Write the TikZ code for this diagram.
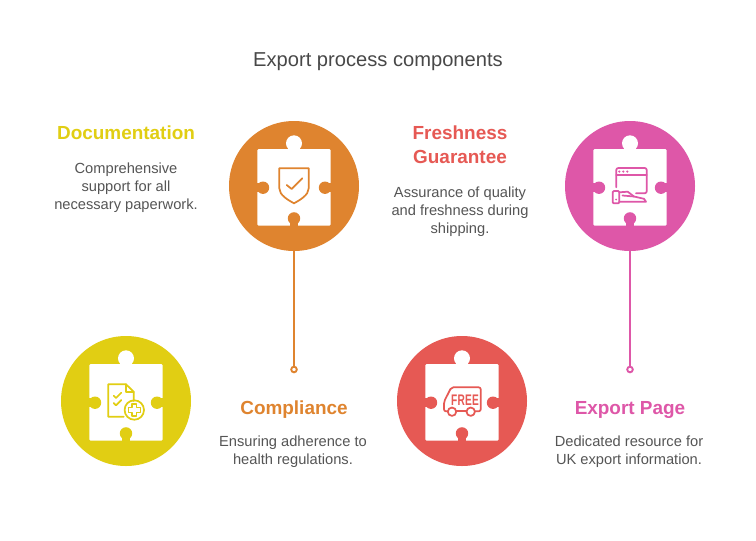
\documentclass[tikz,border=0pt]{standalone}
\usepackage{fontspec}
\setmainfont{Liberation Sans}
\definecolor{cOrange}{HTML}{DF842F}
\definecolor{cPink}{HTML}{DE57A8}
\definecolor{cYellow}{HTML}{E1CE13}
\definecolor{cRed}{HTML}{E65954}
\definecolor{cBody}{HTML}{555555}
\definecolor{cTitle}{HTML}{484848}
\tikzset{
  disc/.style={circle,fill=#1,minimum size=97.5pt,inner sep=0pt,outer sep=0pt},
  ring/.style={circle,draw=#1,fill=white,line width=1.4pt,minimum size=4.2pt,inner sep=0pt,outer sep=0pt},
  link/.style={draw=#1,line width=1.5pt},
  icon/.style={draw=#1,line width=1.3pt,line join=round,line cap=round},
  titletext/.style={text=cTitle,font=\fontsize{15.1pt}{18pt}\selectfont,inner sep=0pt},
  headtext/.style={text=#1,font=\fontsize{14.2pt}{18pt}\selectfont\bfseries,align=center,inner sep=0pt},
  bodytext/.style={text=cBody,font=\fontsize{11pt}{13.5pt}\selectfont,align=center,inner sep=0pt},
}
% puzzle piece: #1 disc name, #2 centre, #3 colour
\newcommand{\puzzlepiece}[3]{%
  \node[disc=#3] (#1) at (#2) {};
  \begin{scope}[shift={(#2)}]
    \fill[white,rounded corners=1pt] (-36.7,-37) rectangle (36.7,39.7);
    \fill[white] (-5,-38) rectangle (5,-44);
    \fill[white] (0,-42.7) circle (8);
    \fill[#3] (-31,1.7) circle (6.2);
    \fill[#3] (31,1.7) circle (6.2);
    \fill[#3] (0,32.4) circle (6.2);
    \fill[#3] (-37.5,-2.6) rectangle (-31,6);
    \fill[#3] (37.5,-2.6) rectangle (31,6);
    \fill[#3] (-4.3,32.4) rectangle (4.3,40.5);
  \end{scope}}
\begin{document}
\begin{tikzpicture}[x=0.75pt,y=-0.75pt]
\useasboundingbox (0,0) rectangle (756,540);
\fill[white] (0,0) rectangle (756,540);

\node[titletext] (title) at (378,62) {Export process components};

\puzzlepiece{docdisc}{294,186}{cOrange}
\puzzlepiece{freshdisc}{630,186}{cPink}
\puzzlepiece{compdisc}{126,401}{cYellow}
\puzzlepiece{freedisc}{462,401}{cRed}

% shield
\begin{scope}[shift={(294,186)}]
  \draw[icon=cOrange] (-14.7,-17.7) -- (14.7,-17.7) -- (14.7,2.3) .. controls (14.7,9) and (6,14) .. (0,17.3) .. controls (-6,14) and (-14.7,9) .. (-14.7,2.3) -- cycle;
  \draw[icon=cOrange] (-7.3,-1) -- (-2.3,3) -- (8.3,-7.7);
\end{scope}
% browser and hand
\begin{scope}[shift={(630,186)}]
  \draw[icon=cPink,rounded corners=1.5pt] (-13.7,1.3) -- (-13.7,-18) -- (16.7,-18) -- (16.7,7.3) -- (6,7.3);
  \draw[icon=cPink] (-13.7,-11) -- (16.7,-11);
  \fill[cPink] (-10.7,-14.4) circle (1.2) (-6.7,-14.4) circle (1.2) (-2.7,-14.4) circle (1.2);
  \draw[icon=cPink,rounded corners=0.8pt] (-17.3,5) rectangle (-10.7,17.3);
  \draw[icon=cPink] (-10.7,6.3) -- (-2.3,5.7) -- (4,10.5) -- (14,12.8) -- (16,15.7) -- (-10.7,15.7);
  \draw[icon=cPink] (-7.5,9.5) -- (4,10.5);
  \fill[cPink] (-14,13.5) circle (1);
\end{scope}
% document with plus
\begin{scope}[shift={(126,401)}]
  \draw[icon=cYellow] (-2.3,15.7) -- (-17.7,15.7) -- (-17.7,-16.7) -- (0,-16.7) -- (7.7,-9.3) -- (7.7,0);
  \draw[icon=cYellow] (0,-16.7) -- (0,-9.3) -- (7.7,-9.3);
  \draw[icon=cYellow] (-12.3,-5.3) -- (-10,-3) -- (-4.7,-8.3);
  \draw[icon=cYellow] (-12.3,2) -- (-10,4.3) -- (-4.7,-1);
  \draw[icon=cYellow] (8.3,9) circle (9.7);
  \draw[icon=cYellow,line width=1.1pt] (6,3) -- (10.6,3) -- (10.6,6.7) -- (14.3,6.7) -- (14.3,11.3) -- (10.6,11.3) -- (10.6,15) -- (6,15) -- (6,11.3) -- (2.3,11.3) -- (2.3,6.7) -- (6,6.7) -- cycle;
\end{scope}
% truck
\begin{scope}[shift={(462,401)}]
  \draw[icon=cRed,rounded corners=1.5pt] (-14.3,10.3) -- (-18,10.3) -- (-18,0.7) -- (-10.7,-13.7) -- (18.7,-13.7) -- (18.7,10.3) -- (13,10.3);
  \draw[icon=cRed] (-5.7,10.3) -- (4.4,10.3);
  \draw[icon=cRed] (-10,10.7) circle (4.2);
  \draw[icon=cRed] (8.7,10.7) circle (4.2);
  \node[text=cRed,inner sep=0pt,font=\fontsize{10pt}{10pt}\selectfont\bfseries] (freeword) at (3,-1.2) {\scalebox{0.76}[1.15]{\addfontfeature{LetterSpace=2}FREE}};
\end{scope}

% connectors
\node[ring=cOrange] (compring) at (294,369.5) {};
\node[ring=cPink] (exportring) at (630,369.5) {};
\draw[link=cOrange] (docdisc.south) -- (compring.north);
\draw[link=cPink] (freshdisc.south) -- (exportring.north);

% texts
\node[headtext=cYellow] (h1) at (126,133) {Documentation};
\node[bodytext] (b1) at (126,188) {Comprehensive\\support for all\\necessary paperwork.};
\node[headtext=cRed] (h2) at (460,145) {Freshness\\Guarantee};
\node[bodytext] (b2) at (460,212) {Assurance of quality\\and freshness during\\shipping.};
\node[headtext=cOrange] (h3) at (294,410) {Compliance};
\node[bodytext] (b3) at (293,452) {Ensuring adherence to\\health regulations.};
\node[headtext=cPink] (h4) at (630,410) {Export Page};
\node[bodytext] (b4) at (629,452) {Dedicated resource for\\UK export information.};
\end{tikzpicture}
\end{document}
